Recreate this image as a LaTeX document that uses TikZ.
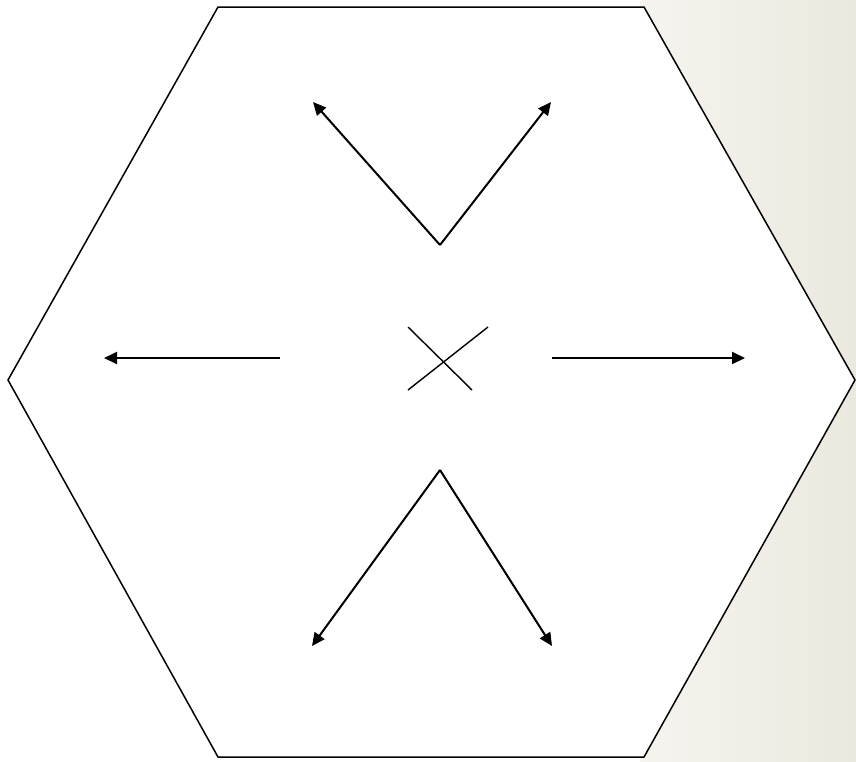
\documentclass[tikz,border=0pt]{standalone}
\usetikzlibrary{arrows.meta}
\definecolor{bgL}{HTML}{F6F4EF}
\definecolor{bgR}{HTML}{EBE8DE}
\tikzset{
  hexline/.style={draw=black, line width=1.5pt, fill=white, line join=miter},
  arr/.style={line width=2pt, -{Triangle[length=13pt,width=12pt]}},
  xline/.style={line width=1.4pt}
}
\begin{document}
\begin{tikzpicture}[x=1pt,y=-1pt]
\useasboundingbox (0,0) rectangle (856,761);
\fill[white] (0,0) rectangle (856,761);
\shade[left color=bgL, right color=bgR] (640,0) rectangle (856,761);
% hexagon
\coordinate (h1) at (218,7);
\coordinate (h2) at (644,7);
\coordinate (h3) at (855,380);
\coordinate (h4) at (644,757);
\coordinate (h5) at (218,757);
\coordinate (h6) at (8,380);
\draw[hexline] (h1) -- (h2) -- (h3) -- (h4) -- (h5) -- (h6) -- cycle;
% top arrows
\coordinate (t0) at (440,245);
\coordinate (tl) at (313,102);
\coordinate (tr) at (551,102);
\draw[arr] (t0) -- (tl);
\draw[arr] (t0) -- (tr);
% bottom arrows
\coordinate (b0) at (440,470);
\coordinate (bl) at (312,646);
\coordinate (br) at (552,646);
\draw[arr] (b0) -- (bl);
\draw[arr] (b0) -- (br);
% side arrows
\coordinate (l0) at (280,358);
\coordinate (l1) at (104,358);
\coordinate (r0) at (552,358);
\coordinate (r1) at (745,358);
\draw[arr] (l0) -- (l1);
\draw[arr] (r0) -- (r1);
% cross
\coordinate (x1) at (408,327);
\coordinate (x2) at (472,390);
\coordinate (x3) at (408,390);
\coordinate (x4) at (488,327);
\draw[xline] (x1) -- (x2);
\draw[xline] (x3) -- (x4);
\end{tikzpicture}
\end{document}
